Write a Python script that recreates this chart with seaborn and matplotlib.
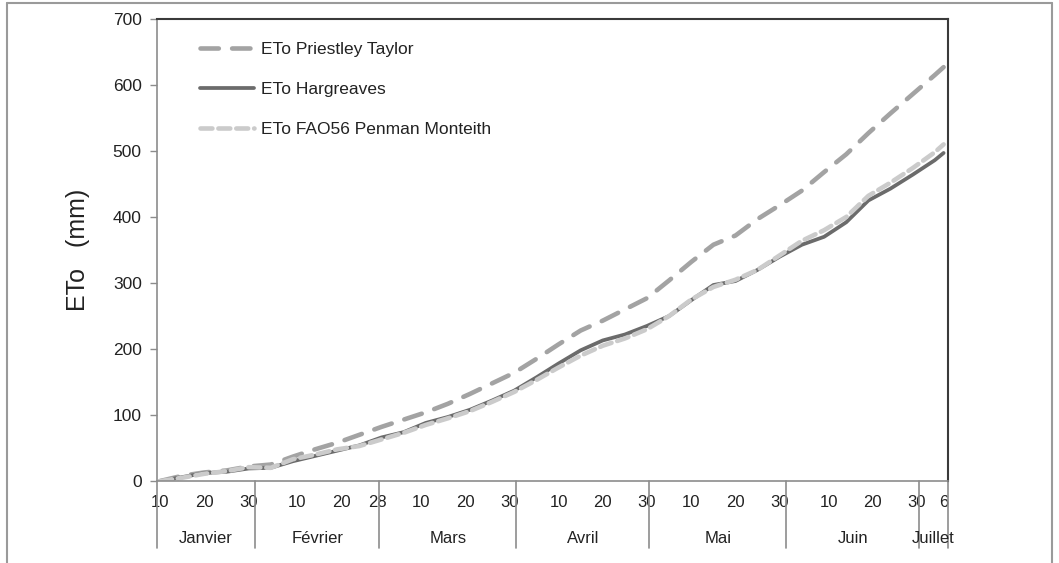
# Cumulative reference evapotranspiration (ETo): three estimation methods

import numpy as np
import pandas as pd
import seaborn as sns
import matplotlib.pyplot as plt
from matplotlib.lines import Line2D

sns.set_style('white')
plt.rcParams['font.family'] = ['Liberation Sans', 'DejaVu Sans']

# day of year (1 = 1 January)
days = [10, 15, 20, 25, 30, 35, 40, 45, 50, 55, 60, 65, 70, 75, 80, 85, 90, 95,
        100, 105, 110, 115, 120, 125, 130, 135, 140, 145, 150, 155, 160, 165,
        170, 175, 180, 185, 187]

eto_priestley = [0, 8, 13, 16, 22, 25, 37, 48, 58, 70, 82, 93, 104, 117, 132, 148,
                 164, 185, 207, 228, 243, 260, 277, 304, 332, 358, 372, 397, 418,
                 440, 468, 495, 527, 557, 586, 615, 627]

eto_hargreaves = [0, 6, 12, 14, 19, 20, 30, 38, 46, 54, 66, 74, 88, 97, 108, 122,
                  137, 157, 178, 198, 213, 222, 235, 250, 274, 297, 303, 320, 340,
                  358, 370, 392, 425, 443, 464, 486, 497]

eto_fao56 = [0, 5, 11, 15, 21, 20, 33, 40, 48, 53, 63, 73, 85, 95, 106, 120, 135,
             153, 172, 190, 205, 216, 230, 250, 275, 294, 305, 320, 342, 364, 380,
             400, 432, 452, 474, 498, 510]

series_names = ['ETo Priestley Taylor', 'ETo Hargreaves', 'ETo FAO56 Penman Monteith']

# x tick labels (day of year, label) and months
tick_days = [10, 20, 30, 41, 51, 59, 69, 79, 89, 100, 110, 120, 130, 140, 150,
             161, 171, 181, 187]
tick_labels = ['10', '20', '30', '10', '20', '28', '10', '20', '30', '10', '20',
               '30', '10', '20', '30', '10', '20', '30', '6']
month_names = ['Janvier', 'Février', 'Mars', 'Avril', 'Mai', 'Juin', 'Juillet']
month_bounds = [9.3, 31.5, 59.5, 90.5, 120.5, 151.5, 181.5, 188.0]

df = pd.DataFrame({'day': days,
                   series_names[0]: eto_priestley,
                   series_names[1]: eto_hargreaves,
                   series_names[2]: eto_fao56})

fig = plt.figure(figsize=(10.59, 5.63), dpi=100)
ax = fig.add_axes([0.1483, 0.1456, 0.7469, 0.8207])

styles = {
    series_names[0]: dict(color='#a3a3a3', lw=3.3, dashes=(4.0, 2.9)),
    series_names[1]: dict(color='#6b6b6b', lw=2.7, dashes=''),
    series_names[2]: dict(color='#cbcbcb', lw=3.3, dashes=(2.6, 1.3)),
}
for name in series_names:
    st = styles[name]
    line_ax = sns.lineplot(data=df, x='day', y=name, ax=ax, color=st['color'],
                           linewidth=st['lw'], label=name)
    ln = line_ax.get_lines()[-1]
    if st['dashes']:
        ln.set_dashes(st['dashes'])
        ln.set_dash_capstyle('round')

ax.set_xlim(month_bounds[0], month_bounds[-1])
ax.set_ylim(0, 700)
ax.set_yticks(range(0, 701, 100))
ax.set_xticks(tick_days)
ax.set_xticklabels(tick_labels)
ax.tick_params(axis='x', length=0, pad=10, labelsize=12, colors='#222222')
ax.tick_params(axis='y', length=5, width=1, color='#8c8c8c', pad=6,
               labelsize=12.5, labelcolor='#222222', left=True)
ax.set_xlabel('')
ax.set_ylabel('ETo   (mm)', fontsize=18, color='#222222')
ax.yaxis.set_label_coords(-0.085, 0.5)

for side in ['left', 'bottom']:
    ax.spines[side].set_color('#8c8c8c')
    ax.spines[side].set_linewidth(1.2)
for side in ['top', 'right']:
    ax.spines[side].set_color('#3a3a3a')
    ax.spines[side].set_linewidth(1.5)

# month separators and month names below the axis
trans = ax.get_xaxis_transform()
for b in month_bounds:
    ax.plot([b, b], [0, -0.145], transform=trans, color='#8c8c8c', lw=1.2,
            clip_on=False)
for i, m in enumerate(month_names):
    mid = (month_bounds[i] + month_bounds[i + 1]) / 2
    ax.text(mid, -0.125, m, transform=trans, ha='center', va='center',
            fontsize=12, color='#222222')

leg = ax.legend(loc='upper left', bbox_to_anchor=(0.035, 0.985), frameon=False,
                fontsize=12.5, handlelength=3.1, handletextpad=0.4,
                labelspacing=1.45)
for t in leg.get_texts():
    t.set_color('#222222')

# thin frame round the figure
frame_kw = dict(color='#9a9a9a', lw=1.5, transform=fig.transFigure)
fig.add_artist(Line2D([0.007, 0.007], [0, 0.995], **frame_kw))
fig.add_artist(Line2D([0.007, 0.993], [0.995, 0.995], **frame_kw))
fig.add_artist(Line2D([0.993, 0.993], [0, 0.995], **frame_kw))

fig.savefig('out.png', dpi=100)
